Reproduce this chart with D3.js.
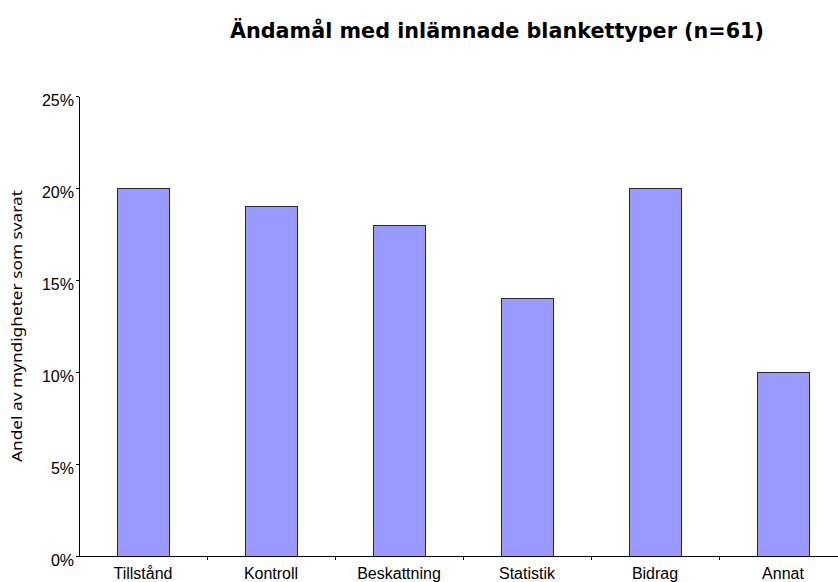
<!DOCTYPE html>
<meta charset="utf-8">
<style>
body { margin: 0; background: #fff; }
.axis path, .axis line { stroke: #000; stroke-width: 1px; shape-rendering: crispEdges; }
.axis text { font-family: Arial, "Liberation Sans", sans-serif; font-size: 16px; fill: #000; }
.bar { fill: #9999ff; stroke: #2a2a2a; stroke-width: 1px; shape-rendering: crispEdges; }
</style>
<svg width="838" height="582"></svg>
<script src="https://d3js.org/d3.v7.min.js"></script>
<script>

var categories = ["Tillstånd", "Kontroll", "Beskattning", "Statistik", "Bidrag", "Annat"];
var values = [0.20, 0.19, 0.18, 0.14, 0.20, 0.10];
var yTicks = [0, 0.05, 0.10, 0.15, 0.20, 0.25];

var svg = d3.select("svg");

var x = d3.scaleBand()
    .domain(categories)
    .range([79, 847])
    .paddingInner(0.59)
    .paddingOuter(0.295);

var y = d3.scaleLinear()
    .domain([0, 0.25])
    .range([556, 96]);

// bars
svg.append("g")
  .selectAll("rect")
  .data(values)
  .enter().append("rect")
    .attr("class", "bar")
    .attr("x", function(d, i) { return Math.round(x(categories[i])) + 0.5; })
    .attr("y", function(d) { return Math.round(y(d)) + 0.5; })
    .attr("width", Math.round(x.bandwidth()))
    .attr("height", function(d) { return Math.round(y(0)) - Math.round(y(d)); });

// y axis
var yAxis = svg.append("g")
    .attr("class", "axis")
    .attr("transform", "translate(79,0)")
    .call(d3.axisLeft(y).tickValues(yTicks).tickFormat(d3.format(".0%")).tickSizeInner(3).tickSizeOuter(0).tickPadding(2));
yAxis.selectAll("text").attr("dy", "0.58em");

// x axis: ticks between categories
var boundaries = d3.range(categories.length + 1).map(function(i) { return 79 + i * x.step(); });
var xAxis = svg.append("g").attr("class", "axis");
xAxis.append("line")
    .attr("x1", 79).attr("x2", 847)
    .attr("y1", y(0)).attr("y2", y(0));
xAxis.selectAll(".tk")
  .data(boundaries.slice(1))
  .enter().append("line")
    .attr("x1", function(d) { return d; }).attr("x2", function(d) { return d; })
    .attr("y1", y(0)).attr("y2", y(0) + 4);
xAxis.selectAll("text")
  .data(categories)
  .enter().append("text")
    .attr("x", function(d) { return x(d) + x.bandwidth() / 2; })
    .attr("y", 579)
    .attr("text-anchor", "middle")
    .text(function(d) { return d; });

// title
svg.append("text")
    .attr("x", 497)
    .attr("y", 38)
    .attr("text-anchor", "middle")
    .style("font-family", "'DejaVu Sans', sans-serif")
    .style("font-weight", "bold")
    .style("font-size", "21px")
    .attr("textLength", 534)
    .attr("lengthAdjust", "spacingAndGlyphs")
    .text("Ändamål med inlämnade blankettyper (n=61)");

// y label
svg.append("text")
    .attr("transform", "translate(22,326) rotate(-90)")
    .attr("text-anchor", "middle")
    .style("font-family", "'Noto Sans', sans-serif")
    .style("font-size", "14px")
    .attr("textLength", 272)
    .attr("lengthAdjust", "spacingAndGlyphs")
    .text("Andel av myndigheter som svarat");

</script>
